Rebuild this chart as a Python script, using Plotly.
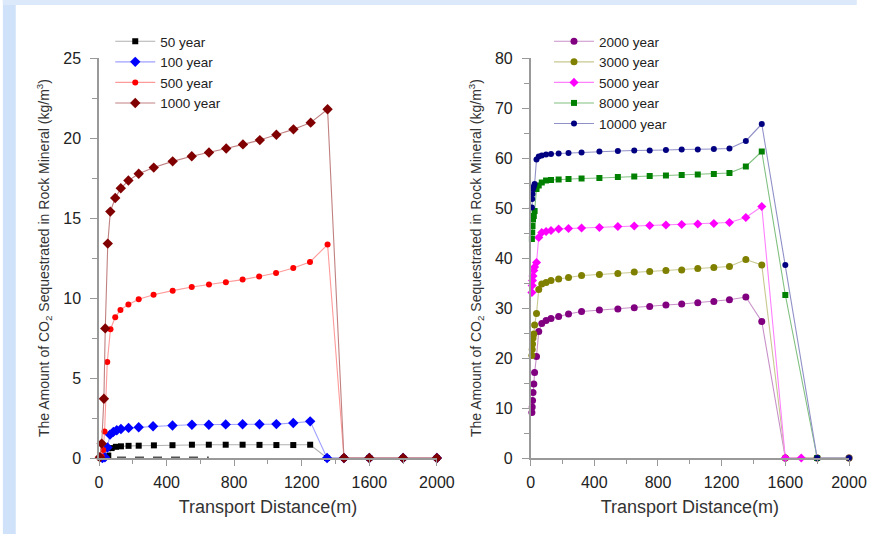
import plotly.graph_objects as go

# ---------------- Left panel data ----------------
x50 = [10, 25, 40, 55, 75, 100, 130, 175, 235, 325, 435, 550, 650, 750, 850, 950, 1050, 1150, 1250, 1350, 1450, 1600, 1800, 2000]
y50 = [0.0, 0.03, 0.08, 0.15, 0.62, 0.70, 0.73, 0.76, 0.77, 0.79, 0.80, 0.83, 0.83, 0.83, 0.83, 0.82, 0.81, 0.81, 0.83, 0, 0, 0, 0, 0]

x100 = [20, 35, 50, 65, 85, 105, 130, 175, 235, 320, 435, 550, 650, 750, 850, 950, 1050, 1150, 1250, 1350, 1450, 1600, 1800, 2000]
y100 = [0.0, 0.05, 0.66, 1.46, 1.63, 1.73, 1.81, 1.88, 1.92, 1.98, 2.03, 2.08, 2.08, 2.10, 2.11, 2.11, 2.12, 2.19, 2.29, 0, 0, 0, 0, 0]

x500 = [15, 25, 33, 49, 68, 96, 127, 174, 235, 323, 436, 549, 651, 751, 850, 948, 1048, 1150, 1249, 1353, 1450, 1600, 1800, 2000]
y500 = [0.1, 0.5, 1.65, 6.0, 8.05, 8.8, 9.25, 9.6, 9.92, 10.2, 10.46, 10.69, 10.84, 10.98, 11.15, 11.34, 11.56, 11.88, 12.25, 13.34, 0, 0, 0, 0]

x1000 = [5, 16, 29, 37, 52, 67, 96, 129, 174, 235, 324, 436, 549, 651, 753, 852, 952, 1050, 1151, 1253, 1353, 1450, 1600, 1800, 2000]
y1000 = [0.05, 0.9, 3.7, 8.1, 13.4, 15.4, 16.25, 16.86, 17.34, 17.77, 18.15, 18.54, 18.86, 19.09, 19.34, 19.6, 19.87, 20.2, 20.54, 20.96, 21.8, 0, 0, 0, 0]

x_base = [0, 650]
y_base = [0.03, 0.03]

# ---------------- Right panel data ----------------
xr = [8, 10, 12, 15, 20, 25, 37, 51, 70, 97, 128, 176, 238, 320, 432, 548, 651, 748, 850, 949, 1050, 1151, 1249, 1352, 1452]

x2000 = xr + [1600, 1800, 2000]
y2000 = [9.1, 10.2, 11.5, 13.1, 14.8, 17.1, 20.3, 25.3, 26.9, 27.5, 27.9, 28.3, 28.8, 29.3, 29.6, 29.8, 30.06, 30.3, 30.6, 30.8, 31.06, 31.3, 31.66, 32.2, 27.3, 0, 0, 0]

x3000 = xr + [1600, 1800, 2000]
y3000 = [20.5, 21.7, 22.8, 24.0, 24.8, 26.6, 28.9, 33.7, 34.8, 35.1, 35.5, 35.8, 36.1, 36.5, 36.7, 36.9, 37.2, 37.3, 37.5, 37.6, 37.9, 38.1, 38.3, 39.7, 38.6, 0, 0, 0]

x5000 = xr + [1600, 1700]
y5000 = [33.1, 34.5, 35.5, 36.4, 37.5, 38.2, 39.1, 44.1, 45.1, 45.3, 45.5, 45.8, 45.9, 46.0, 46.1, 46.3, 46.4, 46.5, 46.6, 46.7, 46.8, 46.9, 47.1, 48.1, 50.3, 0, 0]

x8000 = xr + [1600, 1800]
y8000 = [43.8, 45.1, 46.4, 47.7, 48.4, 49.4, 53.8, 54.5, 55.1, 55.5, 55.6, 55.7, 55.8, 55.9, 56.0, 56.2, 56.3, 56.4, 56.5, 56.6, 56.7, 56.8, 57.0, 58.3, 61.3, 32.6, 0]

x10000 = xr + [1600, 1800, 2000]
y10000 = [50.1, 51.8, 52.8, 53.8, 54.3, 54.8, 59.7, 60.3, 60.5, 60.7, 60.8, 60.9, 61.0, 61.1, 61.3, 61.4, 61.5, 61.5, 61.6, 61.7, 61.7, 61.8, 61.9, 63.4, 66.8, 38.6, 0, 0]

FONT = "Arial, Liberation Sans, sans-serif"

fig = go.Figure()

def add(x, y, name, mcol, lcol, sym, size, xa, ya, leg, dash="solid"):
    fig.add_trace(go.Scatter(
        x=x, y=y, name=name, mode="lines+markers",
        line=dict(color=lcol, width=1.1, dash=dash),
        marker=dict(color=mcol, symbol=sym, size=size, line=dict(width=0)),
        xaxis=xa, yaxis=ya, legend=leg, cliponaxis=False))

# dashed baseline trace (no legend)
fig.add_trace(go.Scatter(x=x_base, y=y_base, mode="lines", showlegend=False,
                         line=dict(color="#555555", width=2, dash="dash"),
                         xaxis="x", yaxis="y", hoverinfo="skip"))

add(x50, y50, "50 year", "#000000", "#b0b0b0", "square", 6, "x", "y", "legend")
add(x100, y100, "100 year", "#0000ff", "#a0a0ff", "diamond", 8, "x", "y", "legend")
add(x500, y500, "500 year", "#ff0000", "#ff9a9a", "circle", 6, "x", "y", "legend")
add(x1000, y1000, "1000 year", "#800000", "#c08080", "diamond", 8, "x", "y", "legend")

add(x2000, y2000, "2000 year", "#800080", "#c890c8", "circle", 7, "x2", "y2", "legend2")
add(x3000, y3000, "3000 year", "#808000", "#c8c890", "circle", 7, "x2", "y2", "legend2")
add(x5000, y5000, "5000 year", "#ff00ff", "#ff80ff", "diamond", 7, "x2", "y2", "legend2")
add(x8000, y8000, "8000 year", "#008000", "#80c080", "square", 6, "x2", "y2", "legend2")
add(x10000, y10000, "10000 year", "#000080", "#9090c8", "circle", 6, "x2", "y2", "legend2")

axis_common = dict(
    showline=True, linecolor="#999999", linewidth=1.5,
    ticks="outside", tickcolor="#999999", tickwidth=1.2,
    showgrid=False, zeroline=False, mirror=False,
    tickfont=dict(family=FONT, size=16, color="#222222"),
)

ytitle = "The Amount of CO<sub>2</sub> Sequestrated in Rock Mineral (kg/m<sup>3</sup>)"

fig.update_layout(
    width=875, height=534, autosize=False,
    margin=dict(l=98.5, r=8, t=58, b=76),
    paper_bgcolor="white", plot_bgcolor="white",
    showlegend=True,
    xaxis=dict(domain=[0, 0.4505], range=[0, 2000], dtick=400, ticklen=6,
               minor=dict(dtick=200, ticklen=4, ticks="outside", tickcolor="#999999", showgrid=False),
               title=dict(text="Transport Distance(m)", font=dict(family=FONT, size=18, color="#333333"), standoff=10),
               anchor="y", ticklabelstandoff=3, **axis_common),
    yaxis=dict(domain=[0, 1], range=[0, 25], dtick=5, ticklen=7,
               minor=dict(dtick=2.5, ticklen=5, ticks="outside", tickcolor="#999999", showgrid=False),
               title=dict(text=ytitle, font=dict(family=FONT, size=14, color="#333333"), standoff=10),
               anchor="x", ticklabelstandoff=6, **axis_common),
    xaxis2=dict(domain=[0.5755, 1.0], range=[0, 2000], dtick=400, ticklen=6,
                minor=dict(dtick=200, ticklen=4, ticks="outside", tickcolor="#999999", showgrid=False),
                title=dict(text="Transport Distance(m)", font=dict(family=FONT, size=18, color="#333333"), standoff=10),
                anchor="y2", ticklabelstandoff=3, **axis_common),
    yaxis2=dict(domain=[0, 1], range=[0, 80], dtick=10, ticklen=7,
                minor=dict(dtick=5, ticklen=5, ticks="outside", tickcolor="#999999", showgrid=False),
                title=dict(text=ytitle, font=dict(family=FONT, size=14, color="#333333"), standoff=10),
                anchor="x2", ticklabelstandoff=6, **axis_common),
    legend=dict(x=0.015, y=1.08, xanchor="left", yanchor="top",
                bgcolor="rgba(0,0,0,0)", font=dict(family=FONT, size=13.5, color="#222222"),
                tracegroupgap=0, itemwidth=40),
    legend2=dict(x=0.600, y=1.08, xanchor="left", yanchor="top",
                 bgcolor="rgba(0,0,0,0)", font=dict(family=FONT, size=13.5, color="#222222"),
                 tracegroupgap=0, itemwidth=40),
    shapes=[
        dict(type="rect", xref="paper", yref="paper", x0=-0.1282, x1=-0.111, y0=-0.19, y1=1.145,
             fillcolor="#cfe2fa", line=dict(width=0), layer="below"),
        dict(type="rect", xref="paper", yref="paper", x0=-0.1282, x1=1.0104, y0=1.1325, y1=1.145,
             fillcolor="#dce9fb", line=dict(width=0), layer="below"),
    ],
)

fig.write_html("out.html", config={"responsive": False})
